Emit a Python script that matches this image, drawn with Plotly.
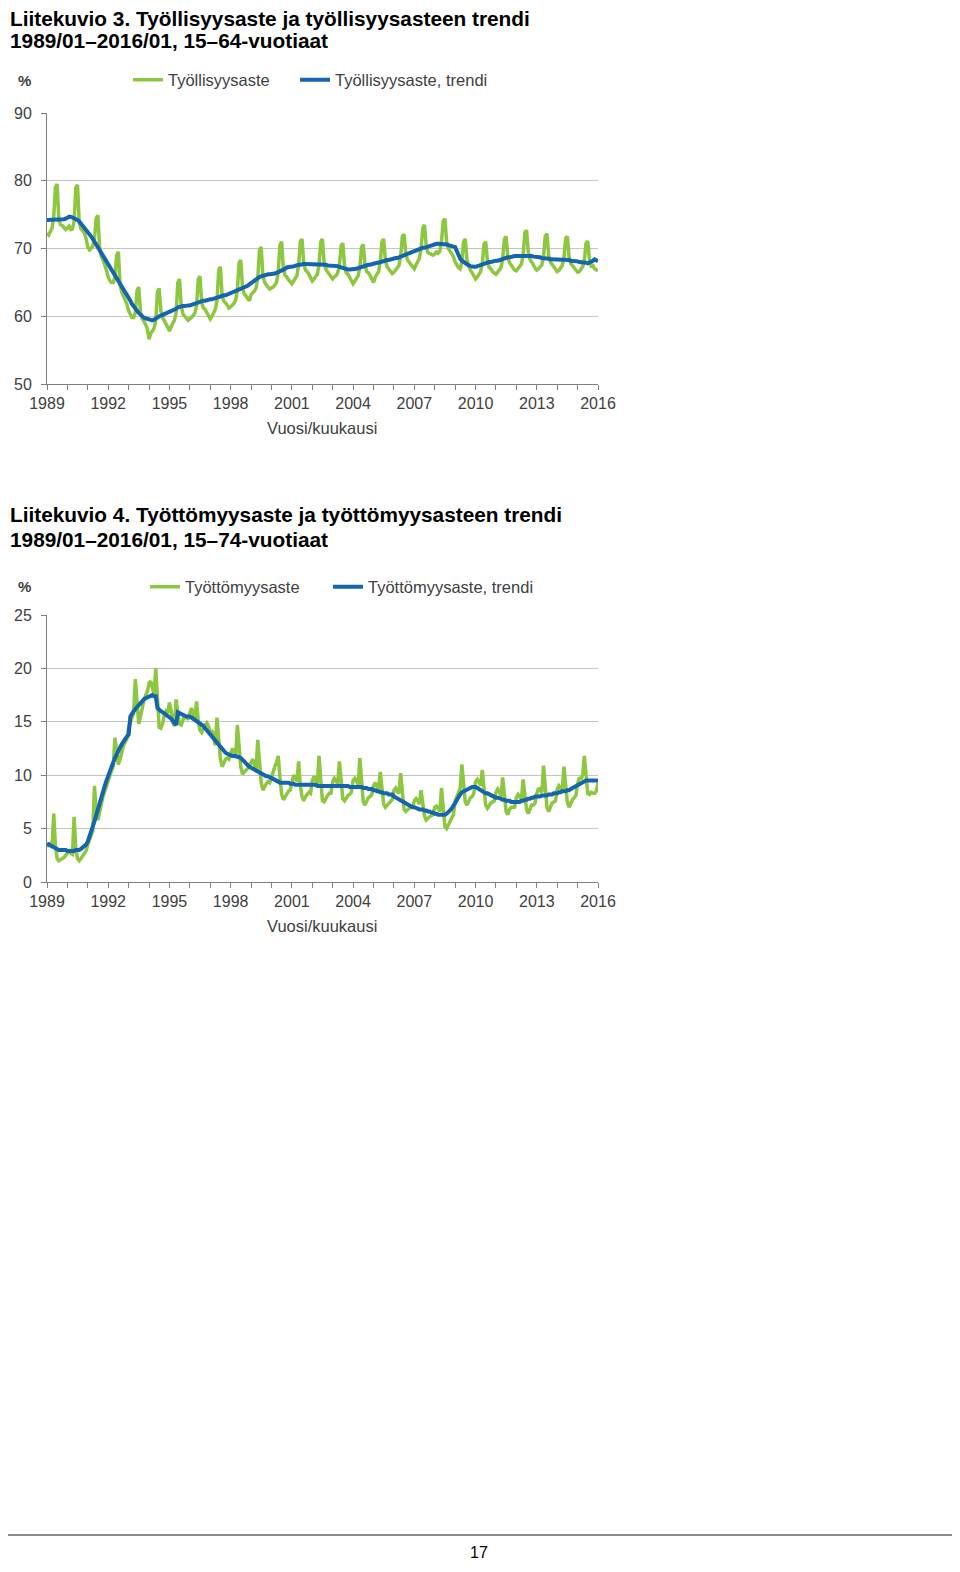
import pandas as pd
import plotly.graph_objects as go

# ---- data (monthly, 1989/01 - 2016/01), one row per year ----
months = pd.date_range("1989-01-01", "2016-01-01", freq="MS")

tyollisyysaste = [
    [72.3, 72.0, 72.5, 73.0, 74.6, 79.0, 79.5, 74.2, 73.5, 73.4, 73.1, 72.8],
    [73.0, 73.3, 72.8, 72.9, 74.0, 79.0, 79.4, 73.8, 72.9, 72.5, 72.3, 71.5],
    [70.2, 69.8, 70.0, 70.4, 71.5, 74.5, 74.9, 70.0, 68.8, 68.3, 67.6, 66.8],
    [65.8, 65.2, 65.0, 65.0, 65.8, 69.0, 69.5, 64.6, 63.5, 63.0, 62.5, 61.8],
    [60.8, 60.2, 59.8, 59.8, 60.6, 63.8, 64.3, 60.6, 59.6, 59.3, 58.8, 58.2],
    [56.6, 57.5, 57.8, 58.2, 59.3, 63.6, 64.1, 60.8, 59.8, 59.4, 59.0, 58.4],
    [57.8, 58.5, 59.0, 59.4, 60.5, 65.0, 65.5, 61.5, 60.3, 60.0, 59.7, 59.4],
    [59.6, 59.8, 60.1, 60.5, 61.6, 65.5, 65.9, 62.0, 61.2, 61.0, 60.6, 60.2],
    [59.6, 60.0, 60.5, 61.0, 62.3, 66.8, 67.3, 63.0, 62.2, 62.0, 61.6, 61.2],
    [61.4, 61.6, 61.9, 62.4, 63.8, 67.9, 68.3, 64.2, 63.3, 63.0, 62.7, 62.3],
    [63.2, 63.4, 63.7, 64.2, 65.6, 69.8, 70.2, 66.0, 65.0, 64.6, 64.3, 64.0],
    [64.2, 64.3, 64.6, 65.0, 66.5, 70.5, 71.0, 67.0, 66.0, 65.8, 65.4, 65.0],
    [64.8, 65.2, 65.6, 66.0, 67.6, 71.0, 71.4, 67.8, 66.8, 66.6, 66.2, 65.8],
    [65.2, 65.5, 65.8, 66.2, 67.6, 71.0, 71.4, 67.8, 66.9, 66.6, 66.2, 65.8],
    [65.5, 65.8, 66.0, 66.4, 67.5, 70.4, 70.8, 67.4, 66.4, 66.2, 65.8, 65.3],
    [64.8, 65.2, 65.5, 66.0, 67.2, 70.2, 70.6, 67.5, 66.6, 66.4, 66.0, 65.6],
    [65.0, 65.8, 66.2, 66.6, 68.0, 71.0, 71.4, 68.2, 67.3, 67.0, 66.7, 66.3],
    [66.5, 66.8, 67.1, 67.5, 68.8, 71.8, 72.1, 69.2, 68.3, 68.0, 67.6, 67.2],
    [67.0, 67.6, 68.0, 68.5, 70.0, 73.0, 73.5, 70.5, 69.4, 69.3, 69.2, 69.0],
    [69.2, 69.5, 69.3, 69.6, 71.0, 74.0, 74.4, 71.0, 70.0, 69.6, 69.3, 68.8],
    [68.0, 67.5, 67.2, 67.0, 68.0, 71.0, 71.4, 68.2, 67.3, 66.8, 66.4, 66.0],
    [65.5, 65.8, 66.2, 66.6, 67.8, 70.6, 71.0, 68.2, 67.2, 67.0, 66.6, 66.4],
    [66.2, 66.5, 66.8, 67.2, 68.5, 71.4, 71.8, 68.8, 67.9, 67.6, 67.2, 66.8],
    [66.7, 67.0, 67.3, 67.7, 69.0, 72.3, 72.7, 69.5, 68.4, 68.1, 67.6, 67.1],
    [66.8, 67.0, 67.3, 67.6, 68.8, 71.8, 72.2, 69.0, 68.0, 67.6, 67.2, 66.8],
    [66.6, 66.8, 67.1, 67.5, 68.6, 71.5, 71.8, 68.8, 67.8, 67.5, 67.0, 66.7],
    [66.5, 66.6, 66.9, 67.3, 68.2, 70.8, 71.1, 68.3, 67.4, 67.5, 67.0, 66.8],
    [66.7],
]

tyollisyysaste_trendi = [
    [74.2, 74.2, 74.2, 74.3, 74.3, 74.3, 74.3, 74.2, 74.2, 74.2, 74.3, 74.4],
    [74.6, 74.7, 74.7, 74.6, 74.5, 74.4, 74.2, 74.0, 73.7, 73.4, 73.1, 72.8],
    [72.5, 72.2, 71.8, 71.4, 71.0, 70.6, 70.1, 69.7, 69.3, 68.9, 68.5, 68.1],
    [67.7, 67.3, 66.9, 66.5, 66.1, 65.7, 65.3, 64.9, 64.5, 64.1, 63.7, 63.3],
    [62.8, 62.3, 61.8, 61.4, 61.1, 60.8, 60.5, 60.2, 60.0, 59.8, 59.7, 59.6],
    [59.5, 59.4, 59.4, 59.5, 59.7, 59.8, 60.0, 60.1, 60.2, 60.3, 60.4, 60.5],
    [60.7, 60.8, 60.9, 61.0, 61.1, 61.3, 61.4, 61.4, 61.5, 61.5, 61.6, 61.6],
    [61.6, 61.7, 61.7, 61.8, 61.9, 62.0, 62.1, 62.2, 62.3, 62.3, 62.4, 62.4],
    [62.5, 62.5, 62.6, 62.7, 62.7, 62.8, 62.9, 63.0, 63.1, 63.1, 63.2, 63.3],
    [63.4, 63.5, 63.6, 63.7, 63.8, 63.9, 64.0, 64.1, 64.2, 64.3, 64.5, 64.7],
    [64.9, 65.1, 65.3, 65.5, 65.7, 65.8, 65.9, 66.0, 66.1, 66.2, 66.2, 66.2],
    [66.2, 66.2, 66.3, 66.4, 66.5, 66.6, 66.7, 66.9, 67.0, 67.2, 67.3, 67.3],
    [67.3, 67.4, 67.4, 67.5, 67.6, 67.6, 67.7, 67.7, 67.7, 67.7, 67.7, 67.7],
    [67.7, 67.7, 67.7, 67.7, 67.6, 67.6, 67.6, 67.6, 67.6, 67.5, 67.5, 67.5],
    [67.5, 67.5, 67.4, 67.4, 67.3, 67.2, 67.1, 67.0, 67.0, 66.9, 66.9, 66.9],
    [66.9, 66.9, 67.0, 67.1, 67.2, 67.3, 67.4, 67.4, 67.5, 67.6, 67.6, 67.7],
    [67.8, 67.8, 67.9, 67.9, 68.0, 68.0, 68.1, 68.2, 68.3, 68.3, 68.4, 68.5],
    [68.5, 68.6, 68.6, 68.7, 68.8, 68.9, 69.0, 69.2, 69.3, 69.4, 69.5, 69.6],
    [69.7, 69.8, 69.9, 70.0, 70.0, 70.1, 70.1, 70.2, 70.3, 70.3, 70.4, 70.5],
    [70.6, 70.7, 70.7, 70.7, 70.7, 70.6, 70.6, 70.6, 70.5, 70.4, 70.3, 70.2],
    [70.2, 69.6, 69.0, 68.5, 68.2, 68.0, 67.8, 67.6, 67.5, 67.4, 67.3, 67.3],
    [67.3, 67.4, 67.5, 67.6, 67.7, 67.8, 67.9, 67.9, 68.0, 68.0, 68.1, 68.1],
    [68.2, 68.2, 68.3, 68.4, 68.5, 68.5, 68.6, 68.7, 68.7, 68.8, 68.8, 68.9],
    [68.9, 68.9, 69.0, 69.0, 69.0, 69.0, 69.0, 68.9, 68.9, 68.9, 68.8, 68.8],
    [68.8, 68.7, 68.7, 68.6, 68.6, 68.5, 68.5, 68.5, 68.4, 68.4, 68.4, 68.3],
    [68.3, 68.3, 68.3, 68.3, 68.4, 68.4, 68.3, 68.3, 68.2, 68.2, 68.2, 68.1],
    [68.1, 68.0, 68.0, 67.9, 67.9, 67.9, 67.8, 67.9, 68.0, 68.2, 68.4, 68.3],
    [68.1],
]

tyottomyysaste = [
    [3.3, 3.5, 3.6, 3.2, 6.4, 3.4, 2.2, 2.0, 2.1, 2.2, 2.3, 2.5],
    [2.7, 2.9, 2.7, 2.6, 6.1, 3.0, 2.2, 2.0, 2.2, 2.4, 2.6, 2.9],
    [3.5, 3.9, 4.3, 4.8, 9.0, 6.5, 5.8, 6.4, 7.3, 8.0, 8.5, 9.0],
    [9.6, 10.0, 10.4, 10.9, 13.5, 11.8, 11.0, 11.5, 12.3, 12.8, 13.1, 13.4],
    [14.5, 15.0, 15.4, 15.8, 19.0, 16.3, 14.8, 15.5, 16.5, 17.0, 17.5, 17.8],
    [18.6, 18.8, 18.2, 17.6, 20.0, 17.0, 14.5, 14.4, 14.8, 15.6, 16.0, 15.8],
    [16.8, 16.0, 15.0, 14.6, 17.1, 15.8, 14.8, 14.7, 15.2, 15.6, 15.4, 15.2],
    [15.8, 16.3, 15.8, 15.3, 16.9, 15.0, 14.2, 14.0, 14.4, 14.7, 14.9, 14.6],
    [14.0, 14.2, 13.5, 12.8, 15.4, 12.8, 11.5, 10.8, 11.2, 11.5, 11.6, 11.5],
    [12.0, 12.5, 12.2, 11.8, 14.7, 12.5, 10.8, 10.1, 10.3, 10.4, 10.6, 10.8],
    [11.2, 11.5, 11.0, 10.5, 13.3, 10.9, 9.3, 8.6, 9.0, 9.2, 9.4, 9.3],
    [9.8, 10.4, 10.8, 11.2, 11.8, 9.8, 8.2, 7.7, 8.0, 8.3, 8.5, 8.6],
    [9.5, 10.0, 9.8, 9.4, 11.3, 9.0, 8.0, 7.6, 8.0, 8.2, 8.4, 8.3],
    [9.5, 9.9, 9.6, 9.2, 11.8, 9.3, 7.6, 7.5, 7.9, 8.1, 8.3, 8.3],
    [9.4, 9.7, 9.5, 9.2, 11.3, 9.0, 7.8, 7.6, 7.9, 8.1, 8.2, 8.4],
    [9.5, 9.7, 9.5, 9.1, 11.6, 9.6, 7.5, 7.2, 7.6, 7.9, 8.0, 8.2],
    [9.0, 9.3, 9.0, 8.7, 10.3, 8.6, 7.3, 7.0, 7.2, 7.4, 7.5, 7.7],
    [8.6, 8.8, 8.5, 8.3, 10.2, 8.4, 6.8, 6.6, 6.8, 6.9, 7.0, 7.0],
    [7.6, 7.8, 7.6, 7.3, 8.6, 7.3, 6.2, 5.8, 6.0, 6.1, 6.2, 6.3],
    [7.0, 7.1, 6.9, 6.6, 8.8, 6.8, 5.2, 5.0, 5.4, 5.8, 6.0, 6.3],
    [7.6, 8.0, 8.5, 8.8, 11.0, 9.3, 7.5, 7.2, 7.6, 7.9, 8.0, 8.3],
    [9.4, 9.6, 9.4, 9.0, 10.5, 8.8, 7.2, 6.9, 7.2, 7.4, 7.5, 7.6],
    [8.4, 8.7, 8.5, 8.0, 9.8, 8.2, 6.6, 6.3, 6.8, 7.0, 7.0, 7.0],
    [7.9, 8.2, 8.0, 7.7, 9.6, 8.0, 6.8, 6.4, 6.8, 7.2, 7.2, 7.4],
    [8.3, 8.8, 8.6, 8.4, 10.9, 8.6, 7.0, 6.6, 7.0, 7.4, 7.5, 7.6],
    [8.7, 9.0, 8.8, 8.5, 10.8, 9.0, 7.5, 7.0, 7.4, 7.7, 7.9, 8.1],
    [9.2, 9.8, 9.6, 10.0, 11.8, 10.2, 8.3, 8.2, 8.4, 8.3, 8.3, 8.5],
    [9.3],
]

tyottomyysaste_trendi = [
    [3.6, 3.5, 3.4, 3.3, 3.2, 3.1, 3.1, 3.0, 3.0, 3.0, 3.0, 3.0],
    [2.9, 2.9, 2.9, 2.9, 2.9, 3.0, 3.0, 3.0, 3.1, 3.2, 3.3, 3.5],
    [3.8, 4.2, 4.7, 5.2, 5.7, 6.3, 6.9, 7.4, 7.9, 8.5, 9.0, 9.5],
    [10.0, 10.4, 10.8, 11.2, 11.6, 12.0, 12.3, 12.6, 12.9, 13.2, 13.4, 13.6],
    [13.8, 15.5, 15.8, 16.0, 16.2, 16.4, 16.6, 16.8, 17.0, 17.1, 17.2, 17.3],
    [17.4, 17.5, 17.5, 17.4, 17.4, 16.3, 16.1, 16.0, 15.9, 15.8, 15.7, 15.6],
    [15.5, 15.3, 15.1, 14.9, 14.7, 15.9, 15.8, 15.7, 15.6, 15.6, 15.5, 15.5],
    [15.5, 15.4, 15.3, 15.2, 15.1, 15.0, 14.9, 14.8, 14.6, 14.4, 14.2, 14.0],
    [13.8, 13.6, 13.4, 13.2, 13.0, 12.8, 12.6, 12.4, 12.3, 12.1, 12.0, 11.9],
    [11.9, 11.8, 11.8, 11.8, 11.7, 11.7, 11.6, 11.5, 11.3, 11.1, 10.9, 10.8],
    [10.7, 10.6, 10.5, 10.4, 10.3, 10.2, 10.1, 10.0, 10.0, 9.9, 9.9, 9.8],
    [9.8, 9.7, 9.6, 9.5, 9.4, 9.3, 9.3, 9.3, 9.3, 9.3, 9.3, 9.2],
    [9.2, 9.2, 9.1, 9.1, 9.1, 9.1, 9.1, 9.1, 9.1, 9.1, 9.1, 9.1],
    [9.1, 9.1, 9.1, 9.0, 9.0, 9.0, 9.0, 9.0, 9.0, 9.0, 9.0, 9.0],
    [9.0, 9.0, 9.0, 9.0, 9.0, 9.0, 9.0, 9.0, 9.0, 9.0, 8.9, 8.9],
    [8.9, 8.9, 8.9, 8.9, 8.9, 8.9, 8.8, 8.8, 8.8, 8.7, 8.7, 8.7],
    [8.6, 8.6, 8.5, 8.5, 8.4, 8.4, 8.3, 8.3, 8.3, 8.2, 8.2, 8.2],
    [8.0, 7.9, 7.9, 7.8, 7.7, 7.6, 7.5, 7.4, 7.3, 7.2, 7.1, 7.0],
    [7.0, 6.9, 6.9, 6.8, 6.8, 6.8, 6.7, 6.7, 6.6, 6.6, 6.5, 6.5],
    [6.4, 6.4, 6.3, 6.3, 6.3, 6.3, 6.3, 6.4, 6.5, 6.7, 6.9, 7.1],
    [7.4, 7.7, 8.0, 8.2, 8.4, 8.5, 8.6, 8.7, 8.8, 8.8, 8.9, 8.9],
    [8.9, 8.8, 8.7, 8.6, 8.5, 8.4, 8.3, 8.3, 8.2, 8.1, 8.0, 8.0],
    [7.9, 7.9, 7.8, 7.8, 7.7, 7.7, 7.6, 7.6, 7.6, 7.5, 7.5, 7.5],
    [7.5, 7.5, 7.5, 7.6, 7.6, 7.7, 7.7, 7.8, 7.8, 7.9, 7.9, 8.0],
    [8.0, 8.0, 8.0, 8.1, 8.1, 8.1, 8.1, 8.2, 8.2, 8.2, 8.3, 8.3],
    [8.3, 8.4, 8.4, 8.5, 8.5, 8.5, 8.6, 8.6, 8.7, 8.8, 8.9, 9.0],
    [9.1, 9.2, 9.3, 9.4, 9.4, 9.5, 9.5, 9.5, 9.5, 9.5, 9.5, 9.5],
    [9.5],
]

years = list(range(1989, 2017))
year_labels = [str(y) if (y - 1989) % 3 == 0 else "" for y in years]


def flat(rows):
    return [v for r in rows for v in r]


# ---- page geometry (the page body keeps its default 8px margin) ----
W, H, PAD = 960, 1572, 8
FW, FH = W - 2 * PAD, H - 2 * PAD


def px(x):
    return (x - PAD) / FW


def py(y):
    return 1 - (y - PAD) / FH


GREEN = "#8DC63F"
BLUE = "#1464AE"
TEXT = "#404040"
AXIS = "#7f7f7f"
GRID = "#c4c4c4"
SANS = "Liberation Sans, Arial, sans-serif"

fig = go.Figure()
fig.add_trace(go.Scatter(x=months, y=flat(tyollisyysaste), name="Työllisyysaste",
                         mode="lines", line=dict(color=GREEN, width=3.5),
                         xaxis="x", yaxis="y", legend="legend"))
fig.add_trace(go.Scatter(x=months, y=flat(tyollisyysaste_trendi), name="Työllisyysaste, trendi",
                         mode="lines", line=dict(color=BLUE, width=4),
                         xaxis="x", yaxis="y", legend="legend2"))
fig.add_trace(go.Scatter(x=months, y=flat(tyottomyysaste), name="Työttömyysaste",
                         mode="lines", line=dict(color=GREEN, width=3.5),
                         xaxis="x2", yaxis="y2", legend="legend3"))
fig.add_trace(go.Scatter(x=months, y=flat(tyottomyysaste_trendi), name="Työttömyysaste, trendi",
                         mode="lines", line=dict(color=BLUE, width=4),
                         xaxis="x2", yaxis="y2", legend="legend4"))

x_common = dict(
    type="date", range=[months[0], months[-1]],
    tickmode="array", tickvals=[f"{y}-01-01" for y in years], ticktext=year_labels,
    ticks="outside", ticklen=5, tickcolor=AXIS, showline=True, linecolor=AXIS, linewidth=1,
    showgrid=False, zeroline=False, automargin=False,
    tickfont=dict(size=16, color=TEXT, family=SANS),
)
y_common = dict(
    ticks="outside", ticklen=5, tickcolor=AXIS, showline=True, linecolor=AXIS, linewidth=1,
    showgrid=True, gridcolor=GRID, gridwidth=1, zeroline=False, automargin=False,
    tickfont=dict(size=16, color=TEXT, family=SANS), ticklabelstandoff=6,
)
legend_common = dict(
    orientation="h", xanchor="left", yanchor="middle", bgcolor="rgba(0,0,0,0)",
    font=dict(size=16.5, color=TEXT, family=SANS), itemwidth=30,
)

title_font = dict(size=20.8, color="black", family=SANS)
small = dict(size=16.5, color=TEXT, family=SANS)
annotations = [
    dict(text="<b>Liitekuvio 3. Työllisyysaste ja työllisyysasteen trendi</b>",
         x=px(PAD), y=py(18), xanchor="left", font=title_font),
    dict(text="<b>1989/01–2016/01, 15–64-vuotiaat</b>",
         x=px(PAD), y=py(41), xanchor="left", font=title_font),
    dict(text="<b>Liitekuvio 4. Työttömyysaste ja työttömyysasteen trendi</b>",
         x=px(PAD), y=py(514), xanchor="left", font=title_font),
    dict(text="<b>1989/01–2016/01, 15–74-vuotiaat</b>",
         x=px(PAD), y=py(539), xanchor="left", font=title_font),
    dict(text="<b>%</b>", x=px(24), y=py(80), font=dict(size=15, color=TEXT, family=SANS)),
    dict(text="<b>%</b>", x=px(24), y=py(587), font=dict(size=15, color=TEXT, family=SANS)),
    dict(text="Vuosi/kuukausi", x=px(322), y=py(428), font=small),
    dict(text="Vuosi/kuukausi", x=px(322), y=py(926), font=small),
    dict(text="17", x=px(479), y=py(1552), font=dict(size=16, color="black", family=SANS)),
]
for a in annotations:
    a.update(xref="paper", yref="paper", showarrow=False)
    a.setdefault("xanchor", "center")
    a.setdefault("yanchor", "middle")

fig.update_layout(
    width=FW, height=FH, autosize=False,
    margin=dict(l=0, r=0, t=0, b=0, pad=0, autoexpand=False),
    paper_bgcolor="white", plot_bgcolor="white",
    font=dict(family=SANS, size=16, color=TEXT),
    xaxis=dict(domain=[px(47), px(598)], anchor="y", **x_common),
    yaxis=dict(domain=[py(384), py(113)], anchor="x", range=[50, 90], dtick=10, **y_common),
    xaxis2=dict(domain=[px(47), px(598)], anchor="y2", **x_common),
    yaxis2=dict(domain=[py(882), py(615)], anchor="x2", range=[0, 25], dtick=5, **y_common),
    legend=dict(x=px(128), y=py(80), **legend_common),
    legend2=dict(x=px(295), y=py(80), **legend_common),
    legend3=dict(x=px(145), y=py(587), **legend_common),
    legend4=dict(x=px(328), y=py(587), **legend_common),
    annotations=annotations,
    shapes=[dict(type="line", xref="paper", yref="paper", x0=0, x1=1,
                 y0=py(1535), y1=py(1535), line=dict(color="#8c8c8c", width=2))],
    showlegend=True,
)

fig.write_html("out.html")
